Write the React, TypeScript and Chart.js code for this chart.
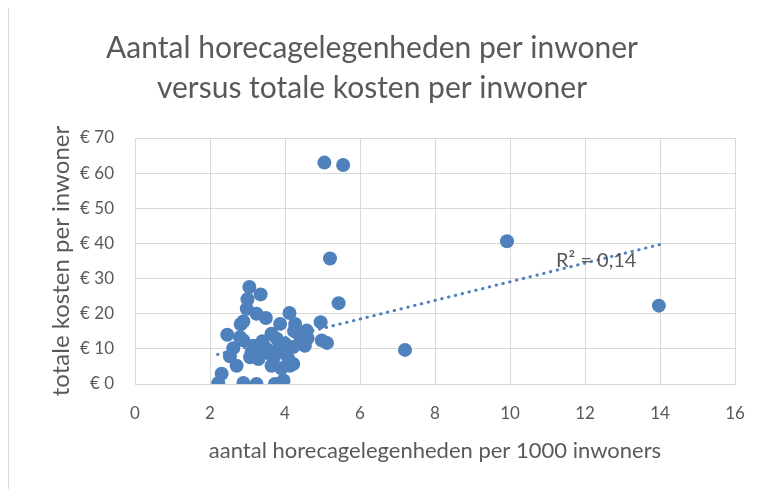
import React, { useEffect, useRef } from "react";
import { Chart, registerables } from "chart.js";

Chart.register(...registerables);

const titleLines = ["Aantal horecagelegenheden per inwoner", "versus totale kosten per inwoner"];
const xAxisTitle = "aantal horecagelegenheden per 1000 inwoners";
const yAxisTitle = "totale kosten per inwoner";
const r2Label = "R² = 0,14";
const r2LabelAt = [12.3, 35];

// horeca per 1000 inwoners
const horecaX = [
  5.05, 5.55, 5.2, 9.92, 13.97, 7.2, 5.43,
  3.05, 3.35, 3.0, 2.98, 3.24, 3.49, 2.89, 2.82,
  2.46, 2.8, 2.62, 2.53, 2.71, 2.31, 2.22, 2.89, 3.24, 3.73, 3.96,
  4.12, 4.95, 3.64, 3.87, 4.27, 4.58, 4.53, 4.98, 5.12, 3.16, 3.07, 3.33,
  3.64, 4.13, 3.96, 3.51, 3.78, 4.22, 4.09, 4.24, 4.4, 3.4, 3.7, 3.9,
  4.0, 3.11, 3.29, 4.22, 3.6, 2.89, 4.6, 3.85
];
// totale kosten per inwoner (euro)
const kostenY = [
  63, 62.3, 35.7, 40.6, 22.3, 9.7, 23,
  27.6, 25.5, 24.1, 21.4, 20, 18.8, 17.8, 17,
  14, 13.3, 10.2, 7.9, 5.2, 2.9, 0.2, 0.3, 0, 0, 1,
  20.2, 17.6, 14.3, 17.1, 17.1, 15.2, 10.9, 12.4, 11.7, 10.9, 7.6, 8.6,
  5.2, 5.2, 9, 10, 12.9, 10.5, 7.1, 15.1, 13.5, 12.2, 7.5, 4.5,
  11.5, 9, 7.1, 5.7, 8.5, 12.4, 13, 11
];

// linear trendline endpoints
const trendX = [2.2, 14];
const trendY = [8.4, 39.7];

const xTicks = { min: 0, max: 16, step: 2 };
const yTicks = { min: 0, max: 70, step: 10 };

const BLUE = "#4f81bd";
const GRAY = "#595959";
const GRID = "#d9d9d9";
const FONT = "Lato, 'Open Sans', sans-serif";

export default function App() {
  const ref = useRef<HTMLCanvasElement | null>(null);

  useEffect(() => {
    const canvas = ref.current;
    if (!canvas) return;
    const r2Plugin = {
      id: "r2label",
      afterDatasetsDraw(chart: any) {
        const { ctx, scales } = chart;
        const px = scales.x.getPixelForValue(r2LabelAt[0]);
        const py = scales.y.getPixelForValue(r2LabelAt[1]);
        ctx.save();
        ctx.font = `20px ${FONT}`;
        ctx.fillStyle = GRAY;
        ctx.textAlign = "center";
        ctx.textBaseline = "middle";
        ctx.fillText(r2Label, px, py);
        ctx.restore();
      },
    };
    const chart = new Chart(canvas, {
      type: "scatter",
      data: {
        datasets: [
          {
            label: "kosten",
            data: horecaX.map((x, i) => ({ x, y: kostenY[i] })),
            backgroundColor: BLUE,
            borderWidth: 0,
            pointRadius: 7,
            pointHoverRadius: 7,
            order: 1,
          },
          {
            type: "line",
            label: "trend",
            data: trendX.map((x, i) => ({ x, y: trendY[i] })),
            borderColor: BLUE,
            borderWidth: 3,
            borderDash: [0.5, 6.5],
            borderCapStyle: "round",
            pointRadius: 0,
            fill: false,
            order: 0,
          } as any,
        ],
      },
      options: {
        animation: false,
        responsive: false,
        layout: { padding: { left: 0, right: 31, top: 0, bottom: 0 } },
        plugins: {
          legend: { display: false },
          tooltip: { enabled: false },
          title: {
            display: true,
            text: titleLines,
            color: GRAY,
            font: { family: FONT, size: 30, weight: "normal", lineHeight: 1.35 },
            padding: { top: 20, bottom: 29 },
          },
        },
        scales: {
          x: {
            type: "linear",
            min: xTicks.min,
            max: xTicks.max,
            afterFit: (s: any) => { s.height = 105; },
            ticks: { stepSize: xTicks.step, color: GRAY, font: { family: FONT, size: 17 }, padding: 19 },
            grid: { color: GRID, lineWidth: 1, drawTicks: false },
            border: { color: GRID },
            title: {
              display: true,
              text: xAxisTitle,
              color: GRAY,
              font: { family: FONT, size: 22 },
              padding: { top: 0, bottom: 25 },
            },
          },
          y: {
            type: "linear",
            min: yTicks.min,
            max: yTicks.max,
            afterFit: (s: any) => { s.width = 126; },
            ticks: {
              stepSize: yTicks.step,
              color: GRAY,
              font: { family: FONT, size: 17 },
              padding: 21,
              callback: (v: any) => "€ " + v,
            },
            grid: { color: GRID, lineWidth: 1, drawTicks: false },
            border: { color: GRID },
            title: {
              display: true,
              text: yAxisTitle,
              color: GRAY,
              font: { family: FONT, size: 24 },
              padding: { top: 38, bottom: 0 },
            },
          },
        },
      },
      plugins: [r2Plugin],
    });
    return () => chart.destroy();
  }, []);

  return (
    <div
      style={{
        width: 757,
        height: 481,
        borderLeft: "1px solid #d9d9d9",
        borderTop: "1px solid #d9d9d9",
        marginTop: -1,
        overflow: "hidden",
        background: "#fff",
      }}
    >
      <canvas ref={ref} width={757} height={481} style={{ display: "block" }} />
    </div>
  );
}
